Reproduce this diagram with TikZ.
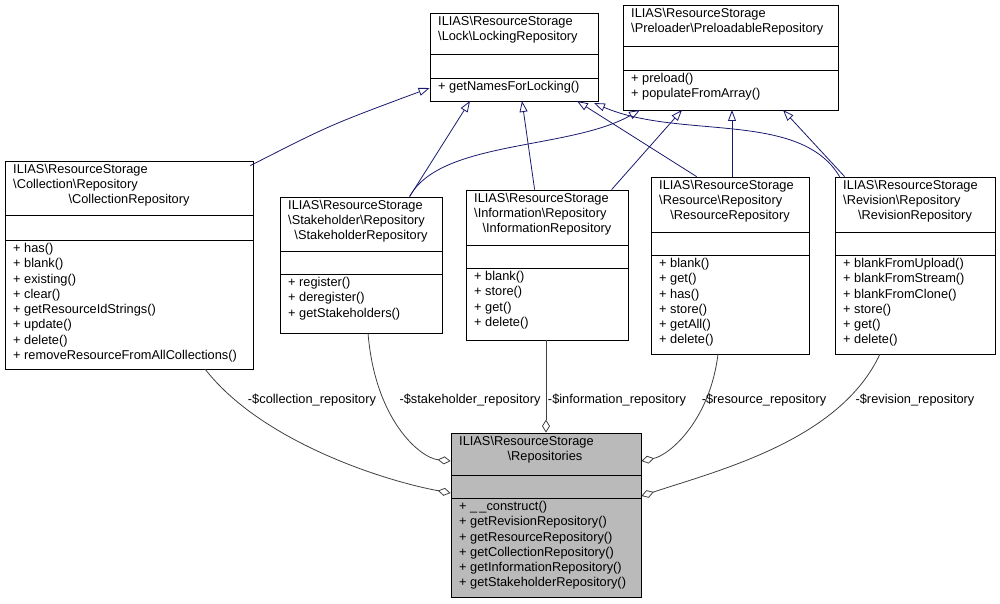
\documentclass[tikz,border=0pt]{standalone}
\usepackage{fontspec}
\setmainfont{Liberation Sans}
\usetikzlibrary{fit,arrows.meta}
\definecolor{inh}{HTML}{191970}
\definecolor{agg}{HTML}{404040}
\newcommand\cls[8]{%
  \node[fit={(#2,#3)(#4,#5)},inner sep=0pt,draw=black,fill=#8,line width=0.8pt] (#1) {};
  \draw[line width=0.8pt] (#2,#6)--(#4,#6) (#2,#7)--(#4,#7);}
\tikzset{
  txt/.style={inner sep=0pt,anchor=north west,align=left,font=\fontsize{12.8}{15.3}\selectfont},
  ctr/.style={inner sep=0pt,anchor=north,font=\fontsize{12.8}{15.3}\selectfont},
  lbl/.style={inner sep=1pt,font=\fontsize{12.8}{14}\selectfont},
  inh/.style={draw=inh,line width=0.8pt,-{Triangle[open,length=11pt,width=8pt]}},
  agg/.style={draw=agg,line width=0.8pt,-{Diamond[open,length=13pt,width=8pt]}}
}
\begin{document}
\begin{tikzpicture}[x=1pt,y=-1pt]
\useasboundingbox (0,0) rectangle (1000,604);
% classes
\cls{lock}{430}{13}{598}{101}{54}{78}{white}
\node[txt] at (438,16) {ILIAS\textbackslash ResourceStorage\\\textbackslash Lock\textbackslash LockingRepository};
\node[txt] at (438,81) {+ getNamesForLocking()};
\cls{pre}{623}{5}{838}{110}{46}{70}{white}
\node[txt] at (631,8) {ILIAS\textbackslash ResourceStorage\\\textbackslash Preloader\textbackslash PreloadableRepository};
\node[txt] at (631,73) {+ preload()\\+ populateFromArray()};
\cls{col}{5}{161}{253}{369}{215}{240}{white}
\node[txt] at (13,164) {ILIAS\textbackslash ResourceStorage\\\textbackslash Collection\textbackslash Repository};
\node[ctr] at (129,194) {\textbackslash CollectionRepository};
\node[txt] at (13,243) {+ has()\\+ blank()\\+ existing()\\+ clear()\\+ getResourceIdStrings()\\+ update()\\+ delete()\\+ removeResourceFromAllCollections()};
\cls{stk}{280}{197}{442}{333}{251}{274}{white}
\node[txt] at (288,200) {ILIAS\textbackslash ResourceStorage\\\textbackslash Stakeholder\textbackslash Repository};
\node[ctr] at (361,230) {\textbackslash StakeholderRepository};
\node[txt] at (288,277) {+ register()\\+ deregister()\\+ getStakeholders()};
\cls{inf}{466}{190}{628}{340}{245}{268}{white}
\node[txt] at (474,193) {ILIAS\textbackslash ResourceStorage\\\textbackslash Information\textbackslash Repository};
\node[ctr] at (547,223) {\textbackslash InformationRepository};
\node[txt] at (474,271) {+ blank()\\+ store()\\+ get()\\+ delete()};
\cls{res}{651}{177}{809}{354}{232}{255}{white}
\node[txt] at (659,180) {ILIAS\textbackslash ResourceStorage\\\textbackslash Resource\textbackslash Repository};
\node[ctr] at (730,210) {\textbackslash ResourceRepository};
\node[txt] at (659,258) {+ blank()\\+ get()\\+ has()\\+ store()\\+ getAll()\\+ delete()};
\cls{rev}{835}{177}{995}{354}{232}{255}{white}
\node[txt] at (843,180) {ILIAS\textbackslash ResourceStorage\\\textbackslash Revision\textbackslash Repository};
\node[ctr] at (915,210) {\textbackslash RevisionRepository};
\node[txt] at (843,258) {+ blankFromUpload()\\+ blankFromStream()\\+ blankFromClone()\\+ store()\\+ get()\\+ delete()};
\cls{repo}{451}{433}{641}{597}{475}{498}{black!27}
\node[txt] at (459,436) {ILIAS\textbackslash ResourceStorage};
\node[ctr] at (545,451) {\textbackslash Repositories};
\node[txt] at (459,501) {+ \_\,\_construct()\\+ getRevisionRepository()\\+ getResourceRepository()\\+ getCollectionRepository()\\+ getInformationRepository()\\+ getStakeholderRepository()};
% inheritance
\draw[inh] ([xshift=-3pt,yshift=-5pt]col.north east) .. controls (330,125) .. (lock.west |- 0,88);
\draw[inh] ([xshift=130pt]stk.north west) -- (470,101);
\draw[inh] ([xshift=69pt]inf.north west) -- (522,101);
\draw[inh] ([xshift=46pt]res.north west) -- (577,101);
\draw[inh] ([xshift=5pt]rev.north west) .. controls (800,110) and (680,140) .. (594,103);
\draw[inh] ([xshift=130pt]stk.north west) .. controls (440,140) and (570,150) .. (640,110);
\draw[inh] ([xshift=146pt]inf.north west) -- (682,110);
\draw[inh] (732,177) -- (732,110);
\draw[inh] ([xshift=10pt]rev.north west) -- (783,110);
% aggregation
\draw[agg] (205,369) .. controls (260,440) and (380,480) .. (repo.west |- 0,493);
\node[lbl] at (312,400) {-\$collection\_repository};
\draw[agg] (368,333) .. controls (375,420) and (420,458) .. (repo.west |- 0,461);
\node[lbl] at (470,400) {-\$stakeholder\_repository};
\draw[agg] (546,340) -- (repo.north -| 546,0);
\node[lbl] at (617,400) {-\$information\_repository};
\draw[agg] (718,354) .. controls (710,420) and (670,455) .. (repo.east |- 0,461);
\node[lbl] at (764,400) {-\$resource\_repository};
\draw[agg] (880,354) .. controls (840,440) and (720,470) .. (repo.east |- 0,496);
\node[lbl] at (915,400) {-\$revision\_repository};
\end{tikzpicture}
\end{document}
